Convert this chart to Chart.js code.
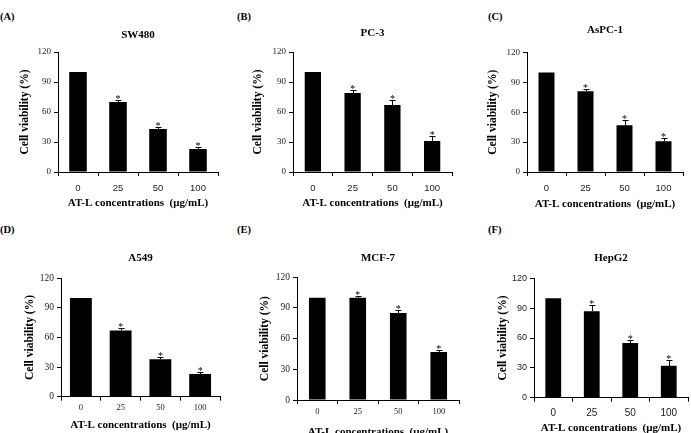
<!DOCTYPE html>
<html>
<head>
<meta charset="utf-8">
<script src="https://cdn.jsdelivr.net/npm/chart.js@4.4.1/dist/chart.umd.min.js"></script>
<style>
  html, body { margin: 0; padding: 0; background: #fff; }
  body { position: relative; width: 691px; height: 433px; overflow: hidden; }
  canvas { position: absolute; }
  .lab { position: absolute; font: bold 10.5px "Liberation Serif", serif; line-height: 12px; color: #000; }
</style>
</head>
<body>
<div class="lab" style="left:0px;top:11px">(A)</div>
<div class="lab" style="left:237px;top:11px">(B)</div>
<div class="lab" style="left:488px;top:11px">(C)</div>
<div class="lab" style="left:0px;top:224px">(D)</div>
<div class="lab" style="left:237px;top:224px">(E)</div>
<div class="lab" style="left:488px;top:224px">(F)</div>

<canvas id="cA" width="230" height="215" style="left:0px;top:0px"></canvas>
<canvas id="cB" width="230" height="215" style="left:230px;top:0px"></canvas>
<canvas id="cC" width="231" height="215" style="left:460px;top:0px"></canvas>
<canvas id="cD" width="230" height="230" style="left:0px;top:215px"></canvas>
<canvas id="cE" width="230" height="230" style="left:230px;top:215px"></canvas>
<canvas id="cF" width="231" height="230" style="left:460px;top:215px"></canvas>

<script>
// AT-L doses (µg/mL) on the x axis
const concentrations = ['0', '25', '50', '100'];
const significance   = ['', '*', '*', '*'];

// cell viability (%) means and error bars
const sw480Means  = [100, 70, 43, 23];
const sw480Errors = [0, 2, 2, 2];
const pc3Means    = [100, 79, 67, 31];
const pc3Errors   = [0, 3, 5, 5];
const aspc1Means  = [100, 81, 47, 31];
const aspc1Errors = [0, 2, 5, 3];
const a549Means   = [100, 67, 38, 23];
const a549Errors  = [0, 3, 2, 2];
const mcf7Means   = [100, 100, 85, 47];
const mcf7Errors  = [0, 2, 3, 2];
const hepg2Means  = [100, 87, 55, 32];
const hepg2Errors = [0, 6, 3, 6];

const yMin = 0, yMax = 120, yStep = 30;

const SERIF = '"Liberation Serif", "Times New Roman", serif';
const SANS  = '"Liberation Sans", Arial, sans-serif';

/* error bars + significance stars drawn from the bar scale */
const errorBars = {
  id: 'errorBars',
  afterDatasetsDraw(chart) {
    const { ctx } = chart;
    const y = chart.scales.y;
    const ds = chart.data.datasets[0];
    const meta = chart.getDatasetMeta(0);
    ctx.save();
    ctx.strokeStyle = '#000';
    ctx.fillStyle = '#000';
    ctx.lineWidth = 1;
    ctx.font = '10px ' + SERIF;
    ctx.textAlign = 'center';
    ctx.textBaseline = 'alphabetic';
    meta.data.forEach((bar, i) => {
      const err = ds.errors[i];
      const top = y.getPixelForValue(ds.data[i] + err);
      if (err > 0) {
        const x = Math.round(bar.x) + 0.5;
        ctx.beginPath();
        ctx.moveTo(x, bar.y);
        ctx.lineTo(x, Math.round(top) + 0.5);
        ctx.moveTo(x - 3, Math.round(top) + 0.5);
        ctx.lineTo(x + 3, Math.round(top) + 0.5);
        ctx.stroke();
      }
      if (ds.marks[i]) ctx.fillText(ds.marks[i], bar.x, top + 2);
    });
    ctx.restore();
  }
};

function drawPanel(p) {
  const canvas = document.getElementById(p.id);
  const W = canvas.width, H = canvas.height;
  const tSize = 11, tLh = tSize * 1.2;
  const xtSize = 11, xtLh = xtSize * 1.2;
  const ytSize = 11.5, ytLh = ytSize * 1.2;
  const xTickLh = p.xTickFont.size * 1.2;

  return new Chart(canvas.getContext('2d'), {
    type: 'bar',
    data: {
      labels: concentrations,
      datasets: [{
        data: p.means,
        errors: p.errors,
        marks: significance,
        backgroundColor: '#000',
        borderWidth: 0,
        barPercentage: p.barPct,
        categoryPercentage: 1
      }]
    },
    options: {
      responsive: false,
      animation: false,
      layout: { padding: { top: 0, left: 0, bottom: 0, right: W - p.plotRight } },
      plugins: {
        legend: { display: false },
        tooltip: { enabled: false },
        title: {
          display: true,
          text: p.name,
          fullSize: false,
          color: '#000',
          font: { family: SERIF, size: tSize, weight: 'bold', lineHeight: 1.2 },
          padding: { top: p.titleY - tLh / 2, bottom: p.plotTop - (p.titleY + tLh / 2) }
        }
      },
      scales: {
        x: {
          afterFit: s => { s.height = H - p.plotBottom; },
          border: { display: true, color: '#000', width: 1 },
          grid: { display: true, drawOnChartArea: false, drawTicks: true, tickLength: 4, color: '#000', offset: true },
          ticks: {
            color: '#222',
            font: p.xTickFont,
            padding: p.xTickY - p.plotBottom - 4 - xTickLh / 2
          },
          title: {
            display: true,
            text: 'AT-L concentrations  (μg/mL)',
            color: '#000',
            font: { family: SERIF, size: xtSize, weight: 'bold', lineHeight: 1.2 },
            padding: { top: 0, bottom: H - p.xTitleY - xtLh / 2 }
          }
        },
        y: {
          min: yMin,
          max: yMax,
          afterFit: s => { s.width = p.yAxisX; },
          border: { display: true, color: '#000', width: 1 },
          grid: { display: true, drawOnChartArea: false, drawTicks: true, tickLength: 4, color: '#000' },
          ticks: { stepSize: yStep, color: '#222', font: p.yTickFont, padding: 3 },
          title: {
            display: true,
            text: 'Cell viability (%)',
            color: '#000',
            font: { family: SERIF, size: ytSize, weight: 'bold', lineHeight: 1.2 },
            padding: { top: p.yTitleX - ytLh / 2, bottom: 0 }
          }
        }
      }
    },
    plugins: [errorBars]
  });
}

const serifTicks = { family: SERIF, size: 9 };
const sansTicks  = { family: SANS, size: 9.5 };

drawPanel({ id: 'cA', name: 'SW480', means: sw480Means, errors: sw480Errors, barPct: 0.44,
  yAxisX: 58, plotTop: 52, plotBottom: 172, plotRight: 218, titleY: 35, yTitleX: 25, xTickY: 188, xTitleY: 203,
  yTickFont: serifTicks, xTickFont: sansTicks });
drawPanel({ id: 'cB', name: 'PC-3', means: pc3Means, errors: pc3Errors, barPct: 0.41,
  yAxisX: 63, plotTop: 52, plotBottom: 172, plotRight: 222, titleY: 33, yTitleX: 28, xTickY: 188, xTitleY: 203,
  yTickFont: serifTicks, xTickFont: sansTicks });
drawPanel({ id: 'cC', name: 'AsPC-1', means: aspc1Means, errors: aspc1Errors, barPct: 0.41,
  yAxisX: 67, plotTop: 52.5, plotBottom: 172, plotRight: 223, titleY: 30, yTitleX: 33, xTickY: 188, xTitleY: 204,
  yTickFont: serifTicks, xTickFont: sansTicks });
drawPanel({ id: 'cD', name: 'A549', means: a549Means, errors: a549Errors, barPct: 0.55,
  yAxisX: 61, plotTop: 63.3, plotBottom: 181.7, plotRight: 220, titleY: 43.3, yTitleX: 30, xTickY: 193, xTitleY: 210,
  yTickFont: { family: SERIF, size: 9.5 }, xTickFont: { family: SERIF, size: 8.5 } });
drawPanel({ id: 'cE', name: 'MCF-7', means: mcf7Means, errors: mcf7Errors, barPct: 0.41,
  yAxisX: 67, plotTop: 62.3, plotBottom: 185, plotRight: 229, titleY: 43, yTitleX: 35, xTickY: 196.7, xTitleY: 216.7,
  yTickFont: { family: SERIF, size: 9.5 }, xTickFont: { family: SERIF, size: 8.5 } });
drawPanel({ id: 'cF', name: 'HepG2', means: hepg2Means, errors: hepg2Errors, barPct: 0.41,
  yAxisX: 74, plotTop: 63.3, plotBottom: 182.7, plotRight: 228, titleY: 43, yTitleX: 43, xTickY: 198, xTitleY: 213,
  yTickFont: { family: SANS, size: 9 }, xTickFont: { family: SANS, size: 10 } });
</script>
</body>
</html>
